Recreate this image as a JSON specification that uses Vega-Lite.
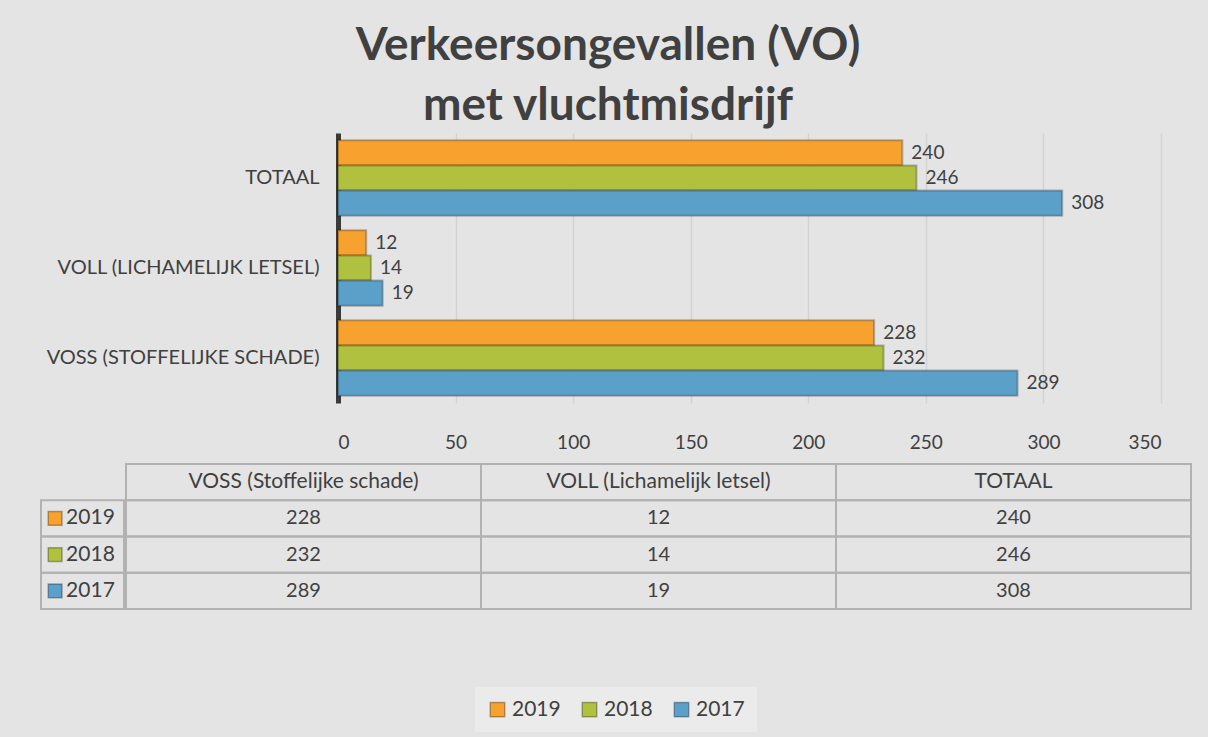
{
  "$schema": "https://vega.github.io/schema/vega-lite/v6.json",
  "background": "#e4e4e4",
  "padding": {"left": 40, "top": 23, "right": 20, "bottom": 5},
  "config": {"font": "Lato", "view": {"stroke": null}, "legend": {"layout": {"bottom": {"anchor": "middle"}}}},
  "title": {
    "text": ["Verkeersongevallen (VO)", "met vluchtmisdrijf"],
    "fontSize": 46, "fontWeight": "bold", "color": "#404040",
    "lineHeight": 60, "anchor": "middle", "offset": 3, "dx": -8, "font": "Lato"
  },
  "datasets": {
    "counts": [
      {"category": "VOSS (Stoffelijke schade)", "year": "2019", "value": 228},
      {"category": "VOSS (Stoffelijke schade)", "year": "2018", "value": 232},
      {"category": "VOSS (Stoffelijke schade)", "year": "2017", "value": 289},
      {"category": "VOLL (Lichamelijk letsel)", "year": "2019", "value": 12},
      {"category": "VOLL (Lichamelijk letsel)", "year": "2018", "value": 14},
      {"category": "VOLL (Lichamelijk letsel)", "year": "2017", "value": 19},
      {"category": "TOTAAL", "year": "2019", "value": 240},
      {"category": "TOTAAL", "year": "2018", "value": 246},
      {"category": "TOTAAL", "year": "2017", "value": 308}
    ],
    "cats": [
      {"category": "VOSS (Stoffelijke schade)"},
      {"category": "VOLL (Lichamelijk letsel)"},
      {"category": "TOTAAL"}
    ]
  },
  "spacing": 11,
  "vconcat": [
    {
      "width": 1120,
      "height": 270,
      "data": {"name": "counts"},
      "encoding": {
        "y": {
          "field": "category", "type": "nominal",
          "sort": ["TOTAAL", "VOLL (Lichamelijk letsel)", "VOSS (Stoffelijke schade)"],
          "scale": {"paddingInner": 0.16, "paddingOuter": 0.08},
          "axis": {
            "title": null, "labelExpr": "upper(datum.label)", "labelFontSize": 20,
            "labelColor": "#404040", "labelPadding": 19, "ticks": false, "offset": -297,
            "domainColor": "#3a3a3a", "domainWidth": 5, "minExtent": 0, "maxExtent": 0,
            "labelLimit": 320
          }
        },
        "yOffset": {"field": "year", "type": "nominal", "sort": ["2019", "2018", "2017"]},
        "x": {
          "field": "value", "type": "quantitative",
          "scale": {"domain": [0, 350], "nice": false, "range": [297, 1120]},
          "axis": {
            "title": null, "values": [0, 50, 100, 150, 200, 250, 300, 350],
            "labelFontSize": 19, "labelColor": "#404040", "labelPadding": 30,
            "ticks": false, "domain": false, "gridColor": "#d2d2d2", "gridWidth": 1.5
          }
        }
      },
      "layer": [
        {
          "mark": {"type": "bar", "stroke": "rgba(0,0,0,0.25)", "strokeWidth": 2},
          "encoding": {
            "color": {
              "field": "year", "type": "nominal",
              "scale": {"domain": ["2019", "2018", "2017"], "range": ["#F7A12E", "#AFC13F", "#5AA0C8"]},
              "legend": {
                "orient": "bottom", "offset": 77, "direction": "horizontal",
                "title": null, "symbolType": "square", "symbolSize": 210,
                "symbolStrokeColor": "rgba(0,0,0,0.3)", "symbolStrokeWidth": 1.5,
                "labelFontSize": 21, "labelColor": "#404040", "columnPadding": 18,
                "labelOffset": 4, "fillColor": "#ebebeb", "padding": 12
              }
            }
          }
        },
        {
          "mark": {"type": "text", "align": "left", "dx": 9, "fontSize": 19, "color": "#404040"},
          "encoding": {"text": {"field": "value", "type": "quantitative"}}
        }
      ]
    },
    {
      "spacing": 0,
      "hconcat": [
        {
          "width": 83,
          "height": 145,
          "data": {"name": "counts"},
          "transform": [{"filter": "datum.category === 'TOTAAL'"}],
          "encoding": {
            "y": {
              "field": "year", "type": "nominal",
              "scale": {"domain": ["header", "2019", "2018", "2017"], "paddingInner": 0, "paddingOuter": 0},
              "axis": null
            }
          },
          "layer": [
            {"mark": {"type": "rect", "fill": "transparent", "stroke": "#b2b2b2", "strokeWidth": 2}},
            {
              "mark": {"type": "point", "shape": "square", "filled": true, "opacity": 1, "size": 190, "stroke": "rgba(0,0,0,0.3)", "strokeWidth": 1.5},
              "encoding": {
                "x": {"datum": "sym", "type": "nominal", "scale": {"type": "point", "align": 0.17, "padding": 1}, "axis": null},
                "color": {"field": "year", "type": "nominal"}
              }
            },
            {
              "mark": {"type": "text", "align": "left", "dx": 11, "fontSize": 21, "color": "#404040"},
              "encoding": {
                "x": {"datum": "sym", "type": "nominal"},
                "text": {"field": "year", "type": "nominal"}
              }
            }
          ]
        },
        {
          "width": 1065,
          "height": 145,
          "encoding": {
            "x": {
              "field": "category", "type": "nominal",
              "sort": ["VOSS (Stoffelijke schade)", "VOLL (Lichamelijk letsel)", "TOTAAL"],
              "scale": {"type": "band", "paddingInner": 0, "paddingOuter": 0},
              "axis": null
            }
          },
          "layer": [
            {
              "data": {"name": "counts"},
              "mark": {"type": "rect", "fill": "transparent", "stroke": "#b2b2b2", "strokeWidth": 2},
              "encoding": {
                "y": {
                  "field": "year", "type": "nominal",
                  "scale": {"domain": ["header", "2019", "2018", "2017"], "paddingInner": 0, "paddingOuter": 0},
                  "axis": null
                }
              }
            },
            {
              "data": {"name": "counts"},
              "mark": {"type": "text", "fontSize": 20, "color": "#404040"},
              "encoding": {
                "y": {"field": "year", "type": "nominal"},
                "text": {"field": "value", "type": "quantitative"}
              }
            },
            {
              "data": {"name": "cats"},
              "mark": {"type": "rect", "fill": "transparent", "stroke": "#b2b2b2", "strokeWidth": 2},
              "encoding": {"y": {"datum": "header", "type": "nominal"}}
            },
            {
              "data": {"name": "cats"},
              "mark": {"type": "text", "fontSize": 21, "color": "#404040"},
              "encoding": {
                "y": {"datum": "header", "type": "nominal"},
                "text": {"field": "category", "type": "nominal"}
              }
            }
          ]
        }
      ]
    }
  ]
}
